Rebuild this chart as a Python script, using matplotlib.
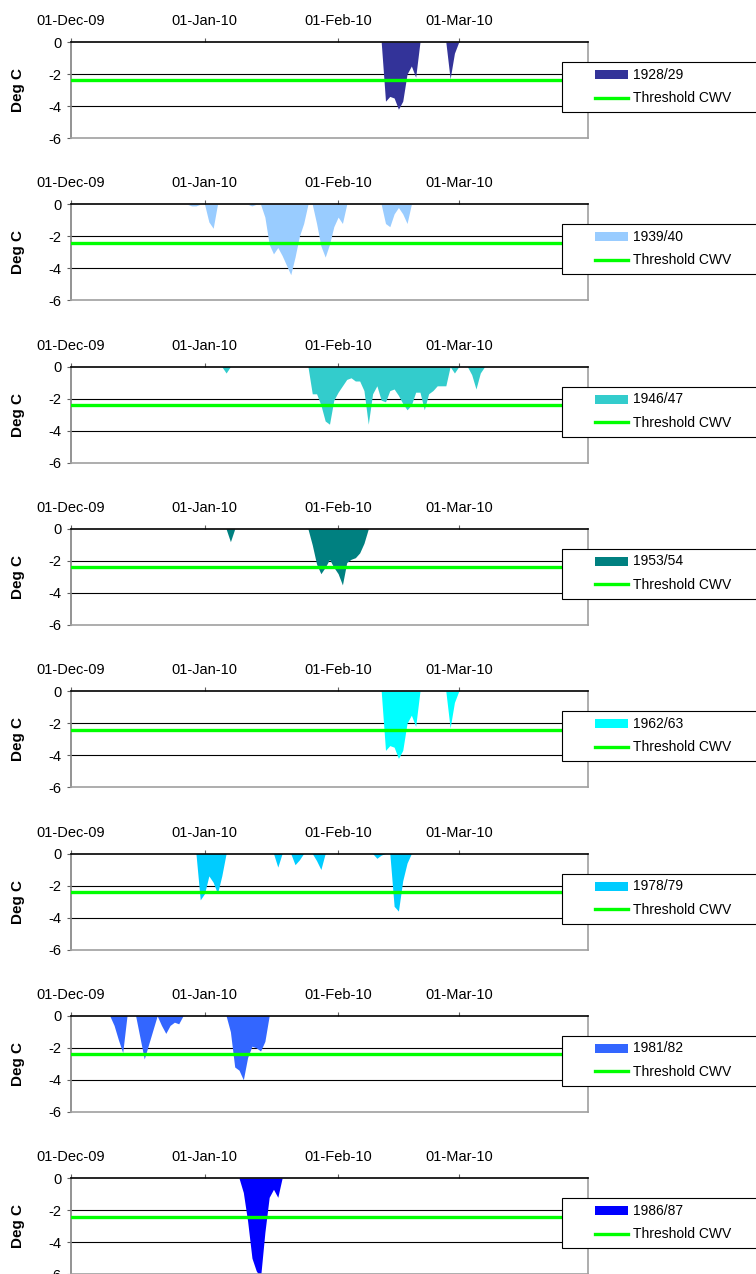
import numpy as np
import pandas as pd
import matplotlib
matplotlib.use('Agg')
import matplotlib.pyplot as plt
import matplotlib.dates as mdates
from matplotlib.patches import Rectangle
from matplotlib.lines import Line2D

plt.rcParams['font.family'] = ['Liberation Sans', 'DejaVu Sans']
plt.rcParams['axes.unicode_minus'] = False

# --- DATOS ---
# dias desde el 01-Dec; cada racha fria = (dia inicial, valores diarios en Deg C)
days = pd.date_range('2009-12-01', '2010-03-31', freq='D')
THRESHOLD = -2.4

seasons = ['1928/29', '1939/40', '1946/47', '1953/54',
           '1962/63', '1978/79', '1981/82', '1986/87']
colors = ['#333399', '#99CCFF', '#33CCCC', '#008080',
          '#00FFFF', '#00CCFF', '#3366FF', '#0000FF']

spells_1928 = [(72, [0, -3.7, -3.4, -3.5, -4.2, -3.7, -2.0, -1.5, -2.2, 0]),
               (87, [0, -2.3, -0.7, 0])]
spells_1939 = [(27, [0, -0.1, -0.1, 0]),
               (31, [0, -1.1, -1.5, 0]),
               (41, [0, -0.1, 0]),
               (44, [0, -0.8, -2.5, -3.1, -2.7, -3.2, -3.8, -4.4, -3.3, -2.0, -1.2, 0]),
               (56, [0, -1.2, -2.6, -3.3, -2.5, -1.4, -0.8, -1.2, 0]),
               (72, [0, -1.2, -1.4, -0.6, -0.2, -0.6, -1.2, 0])]
spells_1946 = [(35, [0, -0.4, 0]),
               (55, [0, -1.7, -1.7, -2.4, -3.4, -3.6, -2.1, -1.6, -1.2, -0.8, -0.7,
                     -0.9, -0.9, -1.5, -3.6, -1.7, -1.2, -2.1, -2.2, -1.5, -1.4, -1.8,
                     -2.3, -2.7, -2.4, -1.6, -1.6, -2.7, -1.7, -1.5, -1.2, -1.2, -1.2,
                     0, -0.4, 0]),
               (92, [0, -0.5, -1.4, -0.4, 0])]
spells_1953 = [(36, [0, -0.8, 0]),
               (55, [0, -1.0, -2.2, -2.8, -2.4, -1.9, -2.4, -2.8, -3.5, -2.1, -1.9,
                     -1.8, -1.5, -0.9, 0])]
spells_1962 = [(72, [0, -3.7, -3.4, -3.5, -4.2, -3.7, -2.0, -1.5, -2.2, 0]),
               (87, [0, -2.3, -0.7, 0])]
spells_1978 = [(29, [0, -2.9, -2.5, -1.4, -1.8, -2.5, -1.4, 0]),
               (47, [0, -0.85, 0]),
               (51, [0, -0.7, -0.4, 0]),
               (56, [0, -0.45, -1.0, 0]),
               (70, [0, -0.3, -0.1, 0]),
               (74, [0, -3.3, -3.6, -1.7, -0.6, 0])]
spells_1981 = [(9, [0, -0.6, -1.5, -2.3, 0]),
               (15, [0, -1.35, -2.7, -1.8, -0.9, 0]),
               (20, [0, -0.6, -1.1, -0.6, -0.4, -0.5, 0]),
               (36, [0, -1.0, -3.2, -3.4, -4.0, -2.6, -1.9, -2.0, -2.2, -1.6, 0])]
spells_1986 = [(39, [0, -0.9, -2.7, -5.0, -5.8, -6.2, -3.4, -1.2, -0.7, -1.2, 0])]

all_spells = [spells_1928, spells_1939, spells_1946, spells_1953,
              spells_1962, spells_1978, spells_1981, spells_1986]


def serie_diaria(spells):
    v = np.zeros(len(days))
    for inicio, vals in spells:
        v[inicio:inicio + len(vals)] = vals
    return v


# --- FIGURA ---
W, H = 756, 1274
fig = plt.figure(figsize=(W / 100, H / 100), dpi=100)

AX_L, AX_R = 71, 588
AX_H = 96
STEP = 162.3
FS = 10.5

for k, (label, color, spells) in enumerate(zip(seasons, colors, all_spells)):
    top = 42 + k * STEP
    ax = fig.add_axes([AX_L / W, 1 - (top + AX_H) / H, (AX_R - AX_L) / W, AX_H / H])

    vals = serie_diaria(spells)
    ax.fill_between(days, vals, 0, color=color, linewidth=0, zorder=2)
    ax.axhline(THRESHOLD, color='#00FF00', lw=2.4, zorder=3)
    for g in (-2, -4):
        ax.axhline(g, color='black', lw=0.8, zorder=1)

    ax.set_xlim(days[0], days[-1])
    ax.set_ylim(-6, 0)
    ax.set_yticks([0, -2, -4, -6])

    ax.xaxis.tick_top()
    ax.xaxis.set_major_locator(mdates.MonthLocator())
    ax.xaxis.set_major_formatter(mdates.DateFormatter('%d-%b-%y'))
    ax.tick_params(axis='x', direction='out', length=3, width=0.8, color='#606060',
                   pad=7, labelsize=FS)
    ax.tick_params(axis='y', direction='out', length=3, width=0.8, color='#606060',
                   pad=4, labelsize=FS)

    ax.spines['top'].set_color('black')
    ax.spines['top'].set_linewidth(1.2)
    ax.spines['left'].set_color('#808080')
    ax.spines['left'].set_linewidth(1.2)
    for s in ('right', 'bottom'):
        ax.spines[s].set_color('#A0A0A0')
        ax.spines[s].set_linewidth(1.2)

    ax.set_ylabel('Deg C', fontsize=11, fontweight='bold')
    ax.yaxis.set_label_coords((25 - AX_L) / (AX_R - AX_L), 0.5)

    # leyenda (a la derecha, sale del borde de la figura)
    aw = AX_R - AX_L
    fx = lambda px: (px - AX_L) / aw
    fy = lambda py: 1 - (py - 42) / AX_H
    ax.add_patch(Rectangle((fx(562), fy(112)), fx(800) - fx(562), fy(62) - fy(112),
                           transform=ax.transAxes, facecolor='white', edgecolor='black',
                           lw=0.8, clip_on=False, zorder=10))
    ax.add_patch(Rectangle((fx(595), fy(79)), fx(628) - fx(595), fy(70) - fy(79),
                           transform=ax.transAxes, facecolor=color, edgecolor='none',
                           clip_on=False, zorder=11))
    ax.add_line(Line2D([fx(595), fx(628)], [fy(97.5), fy(97.5)], transform=ax.transAxes,
                       color='#00FF00', lw=2.4, clip_on=False, zorder=11))
    ax.text(fx(633), fy(74.5), label, transform=ax.transAxes, fontsize=10,
            va='center', ha='left', zorder=12)
    ax.text(fx(633), fy(98), 'Threshold CWV', transform=ax.transAxes, fontsize=10,
            va='center', ha='left', zorder=12)

fig.savefig('out.png', dpi=100)
